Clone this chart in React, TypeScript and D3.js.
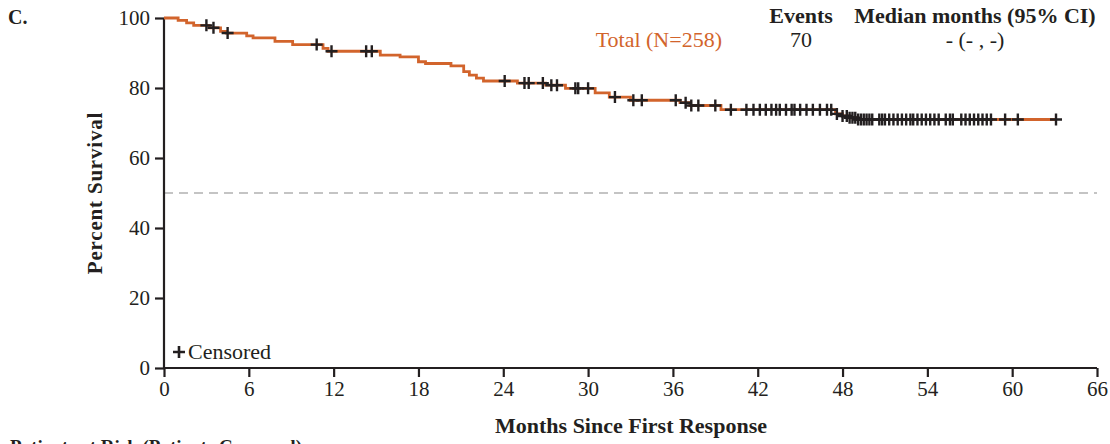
import { useEffect, useRef } from "react";
import * as d3 from "d3";

// Kaplan-Meier steps: month at which survival drops, and the survival % after the drop
const stepMonths = [0, 1.0, 1.6, 2.1, 3.2, 4.0, 4.4, 5.85, 6.3, 7.85, 9.1, 11.25, 11.6, 15.3, 16.7, 18.0, 18.5, 20.3, 21.2, 21.6, 22.1, 22.6, 25.0, 27.0, 28.4, 30.5, 31.5, 33.0, 36.5, 37.2, 39.4, 47.5, 48.0, 48.5, 49.0];
const stepSurvival = [100, 99.3, 98.6, 97.9, 97.2, 96.2, 95.7, 94.9, 94.3, 93.3, 92.4, 91.3, 90.5, 89.4, 88.9, 87.5, 87.0, 86.3, 84.7, 83.7, 82.8, 82.0, 81.4, 80.8, 79.9, 78.6, 77.4, 76.5, 75.8, 75.0, 73.8, 72.6, 72.0, 71.5, 71.0];
const lastMonth = 63.1;

const censorMonths = [
  3.0, 3.5, 4.5, 10.8, 11.85, 14.3, 14.7, 24.1, 25.5, 25.8, 26.8, 27.4, 27.8, 29.1, 29.3, 30.0,
  31.9, 33.2, 33.8, 36.2, 36.9, 37.3, 37.8, 39.0, 40.1,
  41.2, 41.7, 42.15, 42.57, 42.97, 43.3, 43.56, 44.0, 44.4, 44.6, 45.0, 45.45, 45.9, 46.4, 46.9,
  47.2, 47.6, 48.0, 48.3, 48.5, 48.7, 48.9, 49.1, 49.3, 49.5, 49.7, 49.9, 50.1,
  50.6, 50.8, 51.0, 51.3, 51.6, 51.9, 52.2, 52.5, 52.8, 53.0, 53.3, 53.6, 53.9,
  54.2, 54.5, 54.8, 55.3, 55.6, 55.8, 56.4, 56.7, 57.0, 57.3, 57.6, 57.9, 58.2, 58.5,
  59.5, 60.4, 63.1,
];

const xTicks = [0, 6, 12, 18, 24, 30, 36, 42, 48, 54, 60, 66];
const yTicks = [0, 20, 40, 60, 80, 100];

const groupLabel = "Total (N=258)";
const groupEvents = "70";
const groupMedian = "- (- , -)";

const W = 1110;
const H = 444;
const orange = "#d2642c";
const ink = "#231f20";
const serif = "'Liberation Serif', 'Times New Roman', serif";

const App = () => {
  const svgRef = useRef<SVGSVGElement>(null);

  useEffect(() => {
    const svg = d3.select(svgRef.current);
    svg.selectAll("*").remove();

    const x = d3.scaleLinear().domain([0, 66]).range([164, 1097]);
    const y = d3.scaleLinear().domain([0, 100]).range([368, 18]);

    const survAt = (t: number) => {
      let s = 100;
      stepMonths.forEach((m, i) => {
        if (m <= t) s = stepSurvival[i];
      });
      return s;
    };

    // 50% reference line
    svg.append("line")
      .attr("x1", x(0)).attr("x2", x(66))
      .attr("y1", y(50)).attr("y2", y(50))
      .attr("stroke", "#c4c4c4").attr("stroke-width", 2)
      .attr("stroke-dasharray", "9,6");

    // axes
    const yAxis = svg.append("g")
      .attr("transform", `translate(${x(0)},0)`)
      .call(d3.axisLeft(y).tickValues(yTicks).tickSize(9).tickPadding(5));
    const xAxis = svg.append("g")
      .attr("transform", `translate(0,${y(0)})`)
      .call(d3.axisBottom(x).tickValues(xTicks).tickSize(9).tickPadding(4));

    [xAxis, yAxis].forEach((ax) => {
      ax.select(".domain").attr("stroke", ink).attr("stroke-width", 2.2);
      ax.selectAll(".tick line").attr("stroke", ink).attr("stroke-width", 2.2);
      ax.selectAll(".tick text")
        .attr("fill", ink)
        .attr("font-family", serif)
        .attr("font-size", 21);
    });
    // no outer tick caps on the domain path
    yAxis.select(".domain").attr("d", `M0,${y(100)}V${y(0)}`);
    xAxis.select(".domain").attr("d", `M${x(0)},0H${x(66)}`);

    // survival curve
    const pts: [number, number][] = stepMonths.map((m, i) => [m, stepSurvival[i]]);
    pts.push([lastMonth, stepSurvival[stepSurvival.length - 1]]);
    const line = d3.line<[number, number]>()
      .x((d) => x(d[0]))
      .y((d) => y(d[1]))
      .curve(d3.curveStepAfter);
    svg.append("path")
      .attr("d", line(pts))
      .attr("fill", "none")
      .attr("stroke", orange)
      .attr("stroke-width", 2.8);

    // censor marks
    const cs = 6;
    const cg = svg.append("g").attr("stroke", ink).attr("stroke-width", 2.4);
    censorMonths.forEach((m) => {
      const cx = x(m);
      const cy = y(survAt(m));
      cg.append("path").attr("d", `M${cx - cs},${cy}H${cx + cs}M${cx},${cy - cs}V${cy + cs}`);
    });

    // censored key
    const kx = 179;
    const ky = 352;
    svg.append("path")
      .attr("d", `M${kx - 6},${ky}H${kx + 6}M${kx},${ky - 6}V${ky + 6}`)
      .attr("stroke", ink).attr("stroke-width", 2.6);
    svg.append("text")
      .attr("x", 188).attr("y", ky + 7)
      .attr("font-family", serif).attr("font-size", 22).attr("fill", ink)
      .text("Censored");

    // titles
    svg.append("text")
      .attr("x", 8).attr("y", 24)
      .attr("font-family", serif).attr("font-size", 20).attr("font-weight", "bold").attr("fill", ink)
      .text("C.");
    svg.append("text")
      .attr("transform", `translate(102,${y(50)}) rotate(-90)`)
      .attr("text-anchor", "middle")
      .attr("font-family", serif).attr("font-size", 21).attr("font-weight", "bold").attr("fill", ink)
      .attr("letter-spacing", 0.8)
      .text("Percent Survival");
    svg.append("text")
      .attr("x", 631).attr("y", 433)
      .attr("text-anchor", "middle")
      .attr("font-family", serif).attr("font-size", 22).attr("font-weight", "bold").attr("fill", ink)
      .text("Months Since First Response");
    svg.append("text")
      .attr("x", 10).attr("y", 453)
      .attr("font-family", serif).attr("font-size", 19).attr("font-weight", "bold").attr("fill", ink)
      .text("Patients at Risk (Patients Censored)");

    // legend table
    const hdr = { "font-family": serif, "font-size": 22, "font-weight": "bold", fill: ink };
    const t1 = svg.append("text").attr("x", 801).attr("y", 23).attr("text-anchor", "middle").text("Events");
    const t2 = svg.append("text").attr("x", 975).attr("y", 23).attr("text-anchor", "middle").text("Median months (95% CI)");
    [t1, t2].forEach((t) => Object.entries(hdr).forEach(([k, v]) => t.attr(k, v as any)));
    svg.append("text")
      .attr("x", 722).attr("y", 47).attr("text-anchor", "end")
      .attr("font-family", serif).attr("font-size", 22).attr("fill", orange)
      .text(groupLabel);
    svg.append("text")
      .attr("x", 801).attr("y", 47).attr("text-anchor", "middle")
      .attr("font-family", serif).attr("font-size", 22).attr("fill", ink)
      .text(groupEvents);
    svg.append("text")
      .attr("x", 975).attr("y", 47).attr("text-anchor", "middle")
      .attr("font-family", serif).attr("font-size", 22).attr("fill", ink)
      .text(groupMedian);
  }, []);

  return (
    <svg
      ref={svgRef}
      width={W}
      height={H}
      style={{ position: "absolute", left: 0, top: 0, background: "#fff" }}
    />
  );
};

export default App;
